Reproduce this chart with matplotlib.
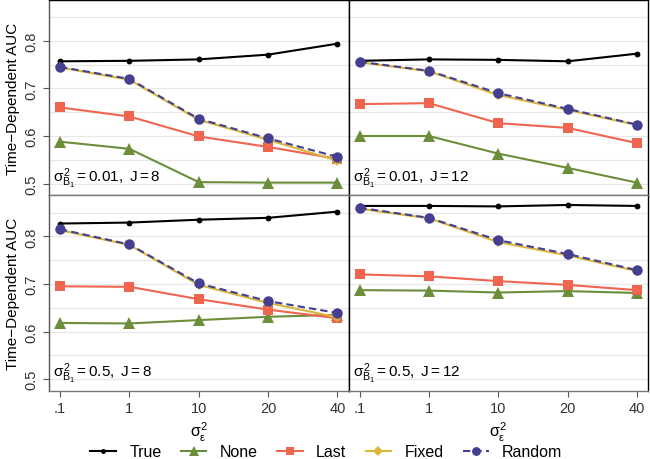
import matplotlib
matplotlib.use("Agg")
import matplotlib.pyplot as plt
from matplotlib.lines import Line2D

plt.rcParams['font.family'] = ['Liberation Sans', 'DejaVu Sans']
plt.rcParams['mathtext.fontset'] = 'custom'
plt.rcParams['mathtext.rm'] = 'Liberation Sans'
plt.rcParams['mathtext.it'] = 'Liberation Sans'
plt.rcParams['mathtext.sf'] = 'Liberation Sans'

# sigma_eps^2 levels on the x axis
x_labels = ['.1', '1', '10', '20', '40']
x_pos = [1, 2, 3, 4, 5]

methods = ['True', 'None', 'Last', 'Fixed', 'Random']

# panel (sigma_B1^2 = 0.01, J = 8)
p1_true = [0.757, 0.758, 0.761, 0.771, 0.794]
p1_none = [0.588, 0.573, 0.503, 0.502, 0.502]
p1_last = [0.660, 0.641, 0.599, 0.577, 0.552]
p1_fixed = [0.744, 0.718, 0.634, 0.592, 0.548]
p1_random = [0.745, 0.720, 0.636, 0.595, 0.556]

# panel (sigma_B1^2 = 0.01, J = 12)
p2_true = [0.758, 0.761, 0.760, 0.757, 0.773]
p2_none = [0.600, 0.600, 0.563, 0.533, 0.502]
p2_last = [0.667, 0.669, 0.627, 0.617, 0.585]
p2_fixed = [0.755, 0.736, 0.686, 0.655, 0.623]
p2_random = [0.756, 0.737, 0.690, 0.657, 0.624]

# panel (sigma_B1^2 = 0.5, J = 8)
p3_true = [0.827, 0.829, 0.835, 0.839, 0.852]
p3_none = [0.618, 0.617, 0.624, 0.631, 0.635]
p3_last = [0.695, 0.694, 0.668, 0.646, 0.628]
p3_fixed = [0.813, 0.782, 0.698, 0.660, 0.630]
p3_random = [0.815, 0.783, 0.701, 0.664, 0.639]

# panel (sigma_B1^2 = 0.5, J = 12)
p4_true = [0.864, 0.864, 0.863, 0.866, 0.864]
p4_none = [0.687, 0.686, 0.682, 0.685, 0.681]
p4_last = [0.720, 0.716, 0.706, 0.698, 0.687]
p4_fixed = [0.858, 0.838, 0.788, 0.760, 0.727]
p4_random = [0.860, 0.839, 0.792, 0.763, 0.729]

panels = [
    ([p1_true, p1_none, p1_last, p1_fixed, p1_random], r'$\sigma^2_{B_1} = 0.01,\ J = 8$'),
    ([p2_true, p2_none, p2_last, p2_fixed, p2_random], r'$\sigma^2_{B_1} = 0.01,\ J = 12$'),
    ([p3_true, p3_none, p3_last, p3_fixed, p3_random], r'$\sigma^2_{B_1} = 0.5,\ J = 8$'),
    ([p4_true, p4_none, p4_last, p4_fixed, p4_random], r'$\sigma^2_{B_1} = 0.5,\ J = 12$'),
]

colors = ['black', '#6b8e3a', '#f0654f', '#d9b63c', '#453f91']
markers = ['o', '^', 's', 'D', 'o']
msizes = [4.2, 8, 6.5, 5.5, 7.5]
lstyles = ['-', '-', '-', '-', (0, (3.5, 2))]

fig = plt.figure(figsize=(6.5, 4.6), dpi=100)
gs = fig.add_gridspec(2, 2, left=49/650, right=648/650, top=0.998, bottom=1-392/460,
                      hspace=0, wspace=0)

for k, (series, label) in enumerate(panels):
    r, c = divmod(k, 2)
    ax = fig.add_subplot(gs[r, c])
    for j, vals in enumerate(series):
        ax.plot(x_pos, vals, color=colors[j], marker=markers[j], markersize=msizes[j],
                linestyle=lstyles[j], linewidth=1.5, markeredgewidth=0, zorder=3 + j)
    ax.set_xlim(0.84, 5.16)
    ax.set_ylim(0.475, 0.886)
    ax.set_yticks([0.5, 0.6, 0.7, 0.8])
    ax.set_yticks([0.55, 0.65, 0.75, 0.85], minor=True)
    ax.grid(axis='y', which='both', color='#e8e8e8', linewidth=0.9, zorder=0)
    ax.set_xticks(x_pos)
    ax.tick_params(axis='both', which='minor', length=0)
    ax.tick_params(axis='both', color='#555555', length=4, labelsize=10.5, labelcolor='#333333')
    for s in ax.spines.values():
        s.set_linewidth(1.0)
        s.set_color('black')
    ax.text(0.9, 0.513, label, fontsize=11, va='center', ha='left', zorder=10)
    if r == 0:
        ax.tick_params(axis='x', which='both', length=0, labelbottom=False)
        ax.spines['bottom'].set_color('#777777')
    else:
        ax.set_xticklabels(x_labels)
        ax.set_xlabel(r'$\sigma^2_\varepsilon$', fontsize=11.5, labelpad=3)
        ax.spines['bottom'].set_color('#777777')
        ax.spines['top'].set_color('#777777')
    if c == 0:
        ax.set_ylabel('Time\u2212Dependent AUC', fontsize=11, labelpad=3)
        for t in ax.get_yticklabels():
            t.set_rotation(90)
            t.set_va('center')
        ax.spines['left'].set_color('#555555')
    else:
        ax.tick_params(axis='y', which='both', length=0, labelleft=False)

handles = [Line2D([0], [0], color=colors[j], marker=markers[j], markersize=msizes[j] * 0.85,
                  linestyle=lstyles[j], linewidth=1.5, markeredgewidth=0)
           for j in range(len(methods))]
fig.legend(handles, methods, loc='center', bbox_to_anchor=(0.502, 1 - 453/460), ncol=5,
           frameon=False, fontsize=11.5, handlelength=1.6, columnspacing=1.2,
           handletextpad=0.85, borderaxespad=0)

fig.savefig('out.png', dpi=100)
